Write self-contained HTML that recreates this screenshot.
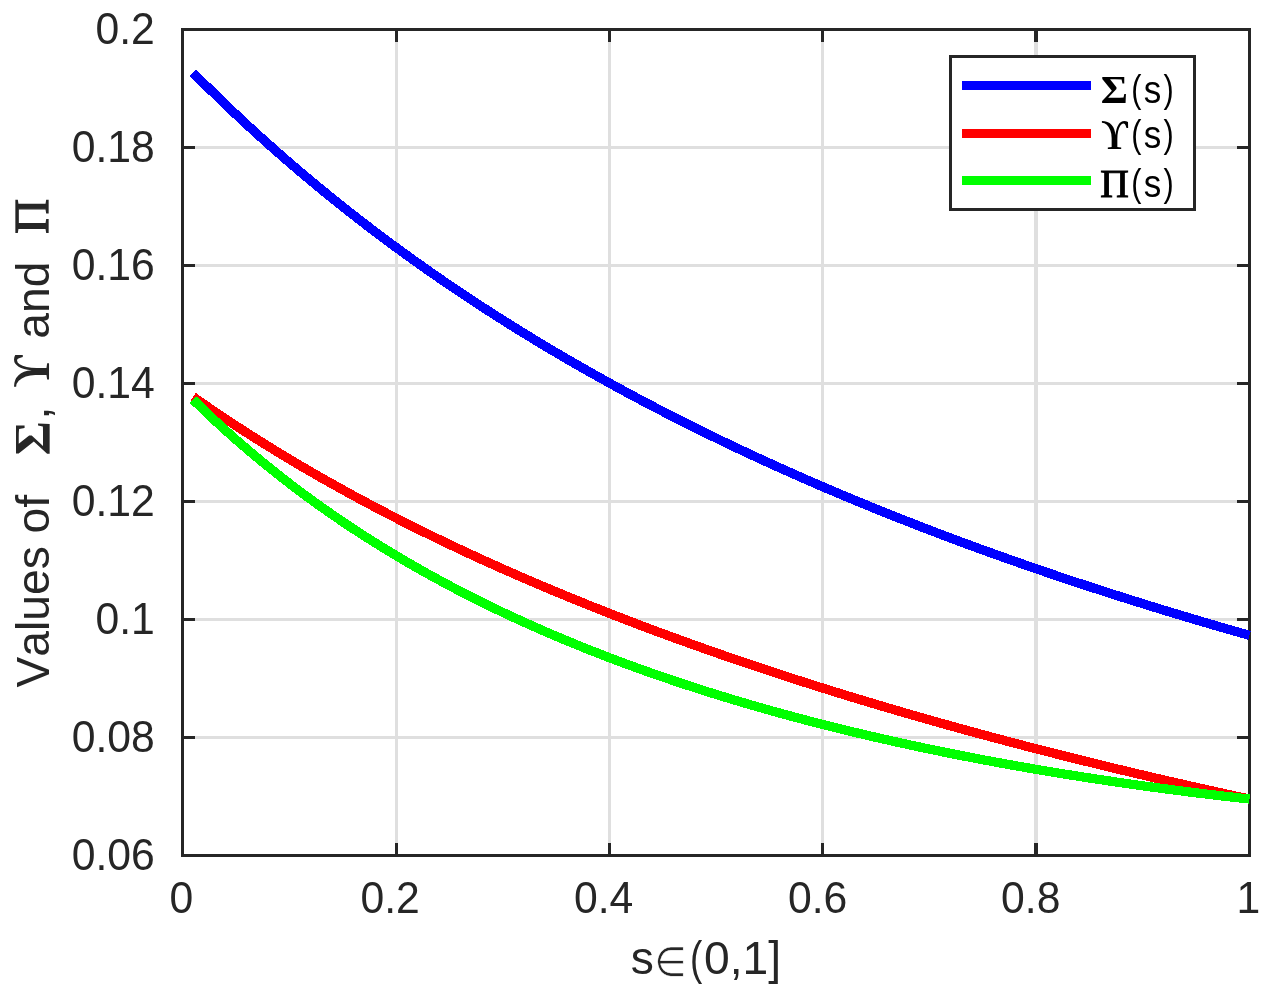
<!DOCTYPE html>
<html lang="en">
<head>
<meta charset="utf-8">
<title>Values of Σ, Υ and Π</title>
<style>
html,body{margin:0;padding:0;background:#fff;}
body{width:1264px;height:993px;overflow:hidden;}
svg{display:block;}
text{font-family:"Liberation Sans","DejaVu Sans",sans-serif;fill:#262626;}
.gk{font-family:"Liberation Serif","DejaVu Serif",serif;}
.tk{font-size:42.7px;}
.lb{font-size:46.2px;}
.lg{font-size:38.3px;}
.lg text{fill:#000;}
</style>
</head>
<body>
<svg width="1264" height="993" viewBox="0 0 1264 993" role="img" aria-label="Values of Σ(s), Υ(s) and Π(s) for s∈(0,1]">
<rect x="0" y="0" width="1264" height="993" fill="#ffffff"/>
<g stroke="#dfdfdf" stroke-width="3" fill="none">
<line x1="396.5" y1="31" x2="396.5" y2="854"/>
<line x1="609.5" y1="31" x2="609.5" y2="854"/>
<line x1="822.5" y1="31" x2="822.5" y2="854"/>
<line x1="1036" y1="31" x2="1036" y2="854" stroke-width="4"/>
<line x1="184" y1="147.5" x2="1248" y2="147.5"/>
<line x1="184" y1="265.5" x2="1248" y2="265.5"/>
<line x1="184" y1="383.5" x2="1248" y2="383.5"/>
<line x1="184" y1="501.5" x2="1248" y2="501.5"/>
<line x1="184" y1="619.5" x2="1248" y2="619.5"/>
<line x1="184" y1="737.5" x2="1248" y2="737.5"/>
</g>
<g stroke="#262626" stroke-width="3" fill="none" stroke-linecap="butt">
<rect x="182.5" y="29.5" width="1067" height="826"/>
<line x1="396.5" y1="855.5" x2="396.5" y2="843.0"/>
<line x1="396.5" y1="29.5" x2="396.5" y2="42.0"/>
<line x1="609.5" y1="855.5" x2="609.5" y2="843.0"/>
<line x1="609.5" y1="29.5" x2="609.5" y2="42.0"/>
<line x1="822.5" y1="855.5" x2="822.5" y2="843.0"/>
<line x1="822.5" y1="29.5" x2="822.5" y2="42.0"/>
<line x1="1036" y1="855.5" x2="1036" y2="843.0" stroke-width="4"/>
<line x1="1036" y1="29.5" x2="1036" y2="42.0" stroke-width="4"/>
<line x1="182.5" y1="147.5" x2="195.0" y2="147.5"/>
<line x1="1249.5" y1="147.5" x2="1237.0" y2="147.5"/>
<line x1="182.5" y1="265.5" x2="195.0" y2="265.5"/>
<line x1="1249.5" y1="265.5" x2="1237.0" y2="265.5"/>
<line x1="182.5" y1="383.5" x2="195.0" y2="383.5"/>
<line x1="1249.5" y1="383.5" x2="1237.0" y2="383.5"/>
<line x1="182.5" y1="501.5" x2="195.0" y2="501.5"/>
<line x1="1249.5" y1="501.5" x2="1237.0" y2="501.5"/>
<line x1="182.5" y1="619.5" x2="195.0" y2="619.5"/>
<line x1="1249.5" y1="619.5" x2="1237.0" y2="619.5"/>
<line x1="182.5" y1="737.5" x2="195.0" y2="737.5"/>
<line x1="1249.5" y1="737.5" x2="1237.0" y2="737.5"/>
</g>
<g fill="none" stroke-width="9.25" stroke-linecap="butt" stroke-linejoin="round" shape-rendering="crispEdges">
<polyline stroke="#0000ff" points="193.17,72.76 203.84,83.44 214.51,93.93 225.18,104.23 235.85,114.35 246.52,124.30 257.19,134.07 267.86,143.67 278.53,153.11 289.20,162.40 299.87,171.52 310.54,180.50 321.21,189.33 331.88,198.01 342.55,206.56 353.22,214.96 363.89,223.24 374.56,231.38 385.23,239.40 395.90,247.29 406.57,255.06 417.24,262.72 427.91,270.25 438.58,277.68 449.25,284.99 459.92,292.20 470.59,299.30 481.26,306.29 491.93,313.19 502.60,319.99 513.27,326.69 523.94,333.29 534.61,339.80 545.28,346.23 555.95,352.56 566.62,358.81 577.29,364.97 587.96,371.05 598.63,377.04 609.30,382.96 619.97,388.80 630.64,394.56 641.31,400.25 651.98,405.86 662.65,411.40 673.32,416.87 683.99,422.27 694.66,427.60 705.33,432.86 716.00,438.06 726.67,443.20 737.34,448.27 748.01,453.28 758.68,458.23 769.35,463.12 780.02,467.95 790.69,472.72 801.36,477.44 812.03,482.10 822.70,486.71 833.37,491.26 844.04,495.76 854.71,500.21 865.38,504.61 876.05,508.96 886.72,513.26 897.39,517.51 908.06,521.72 918.73,525.88 929.40,529.99 940.07,534.05 950.74,538.08 961.41,542.06 972.08,545.99 982.75,549.89 993.42,553.74 1004.09,557.55 1014.76,561.33 1025.43,565.06 1036.10,568.75 1046.77,572.41 1057.44,576.03 1068.11,579.61 1078.78,583.15 1089.45,586.66 1100.12,590.14 1110.79,593.58 1121.46,596.98 1132.13,600.35 1142.80,603.69 1153.47,607.00 1164.14,610.27 1174.81,613.51 1185.48,616.72 1196.15,619.90 1206.82,623.05 1217.49,626.17 1228.16,629.26 1238.83,632.32 1249.50,635.35"/>
<polyline stroke="#ff0000" points="193.17,396.77 203.84,404.20 214.51,411.49 225.18,418.65 235.85,425.68 246.52,432.59 257.19,439.37 267.86,446.04 278.53,452.59 289.20,459.03 299.87,465.36 310.54,471.59 321.21,477.72 331.88,483.75 342.55,489.69 353.22,495.53 363.89,501.28 374.56,506.94 385.23,512.52 395.90,518.02 406.57,523.43 417.24,528.76 427.91,534.02 438.58,539.21 449.25,544.32 459.92,549.36 470.59,554.33 481.26,559.23 491.93,564.07 502.60,568.84 513.27,573.55 523.94,578.20 534.61,582.78 545.28,587.31 555.95,591.79 566.62,596.20 577.29,600.56 587.96,604.87 598.63,609.13 609.30,613.33 619.97,617.48 630.64,621.59 641.31,625.65 651.98,629.65 662.65,633.62 673.32,637.54 683.99,641.41 694.66,645.24 705.33,649.02 716.00,652.77 726.67,656.47 737.34,660.14 748.01,663.76 758.68,667.34 769.35,670.89 780.02,674.40 790.69,677.87 801.36,681.31 812.03,684.71 822.70,688.07 833.37,691.40 844.04,694.70 854.71,697.96 865.38,701.19 876.05,704.39 886.72,707.55 897.39,710.69 908.06,713.79 918.73,716.86 929.40,719.91 940.07,722.92 950.74,725.90 961.41,728.86 972.08,731.79 982.75,734.69 993.42,737.56 1004.09,740.40 1014.76,743.22 1025.43,746.01 1036.10,748.78 1046.77,751.52 1057.44,754.23 1068.11,756.92 1078.78,759.58 1089.45,762.22 1100.12,764.84 1110.79,767.43 1121.46,770.00 1132.13,772.54 1142.80,775.06 1153.47,777.56 1164.14,780.04 1174.81,782.49 1185.48,784.92 1196.15,787.33 1206.82,789.72 1217.49,792.09 1228.16,794.43 1238.83,796.76 1249.50,799.06"/>
<polyline stroke="#00ff00" points="193.17,399.73 203.84,410.10 214.51,420.17 225.18,429.95 235.85,439.47 246.52,448.72 257.19,457.72 267.86,466.47 278.53,474.99 289.20,483.29 299.87,491.37 310.54,499.24 321.21,506.91 331.88,514.39 342.55,521.68 353.22,528.79 363.89,535.72 374.56,542.48 385.23,549.08 395.90,555.52 406.57,561.81 417.24,567.95 427.91,573.95 438.58,579.80 449.25,585.53 459.92,591.12 470.59,596.58 481.26,601.93 491.93,607.15 502.60,612.26 513.27,617.25 523.94,622.14 534.61,626.92 545.28,631.59 555.95,636.17 566.62,640.65 577.29,645.03 587.96,649.32 598.63,653.52 609.30,657.63 619.97,661.66 630.64,665.60 641.31,669.47 651.98,673.25 662.65,676.96 673.32,680.59 683.99,684.15 694.66,687.63 705.33,691.05 716.00,694.40 726.67,697.68 737.34,700.89 748.01,704.05 758.68,707.14 769.35,710.16 780.02,713.13 790.69,716.04 801.36,718.90 812.03,721.70 822.70,724.44 833.37,727.13 844.04,729.76 854.71,732.35 865.38,734.89 876.05,737.37 886.72,739.81 897.39,742.20 908.06,744.54 918.73,746.84 929.40,749.09 940.07,751.30 950.74,753.46 961.41,755.59 972.08,757.67 982.75,759.71 993.42,761.70 1004.09,763.66 1014.76,765.58 1025.43,767.47 1036.10,769.31 1046.77,771.12 1057.44,772.89 1068.11,774.62 1078.78,776.32 1089.45,777.99 1100.12,779.62 1110.79,781.21 1121.46,782.78 1132.13,784.30 1142.80,785.80 1153.47,787.27 1164.14,788.70 1174.81,790.10 1185.48,791.47 1196.15,792.81 1206.82,794.12 1217.49,795.40 1228.16,796.65 1238.83,797.88 1249.50,799.07"/>
</g>
<g class="tk" text-anchor="end">
<text transform="translate(154.8,43.9) scale(1,1.05)">0.2</text>
<text transform="translate(154.8,161.9) scale(1,1.05)">0.18</text>
<text transform="translate(154.8,279.9) scale(1,1.05)">0.16</text>
<text transform="translate(154.8,397.9) scale(1,1.05)">0.14</text>
<text transform="translate(154.8,515.9) scale(1,1.05)">0.12</text>
<text transform="translate(154.8,633.9) scale(1,1.05)">0.1</text>
<text transform="translate(154.8,751.9) scale(1,1.05)">0.08</text>
<text transform="translate(154.8,869.9) scale(1,1.05)">0.06</text>
</g>
<g class="tk">
<text transform="translate(169.4,913.4) scale(1,1.05)">0</text>
<text transform="translate(360.5,913.4) scale(1,1.05)">0.2</text>
<text transform="translate(574,913.4) scale(1,1.05)">0.4</text>
<text transform="translate(788,913.4) scale(1,1.05)">0.6</text>
<text transform="translate(1001.1,913.4) scale(1,1.05)">0.8</text>
<text transform="translate(1236.5,913.4) scale(1,1.05)">1</text>
</g>
<g class="lb">
<text x="630.8" y="974">s</text>
<text transform="translate(654.4,976) scale(0.935,1.04)" style="font-family:'DejaVu Sans',sans-serif;font-size:39px" stroke="#fff" stroke-width="0.5">∈</text>
<text transform="translate(690.1,974) scale(0.8,1)">(</text>
<text x="704" y="974">0,1]</text>
</g>
<g class="lb" transform="translate(49,0) rotate(-90)">
<text x="-687.5" y="0" style="font-kerning:none">Values of</text>
<text class="gk" transform="translate(-455.48,0.00) scale(1.0360,1)" style="font-size:50.92px;font-weight:bold" fill="#262626">Σ</text>
<text x="-419.5" y="0">,</text>
<text class="gk" transform="translate(-387.35,0.00) scale(0.8463,1)" style="font-size:52.92px;font-weight:bold" fill="#262626">ϒ</text>
<text x="-338.7" y="0">and</text>
<text class="gk" transform="translate(-233.80,-0.65) scale(0.9848,1)" style="font-size:49.08px;font-weight:normal" fill="#262626" stroke="#262626" stroke-width="1.3">Π</text>
</g>
<rect x="950.5" y="56.5" width="244" height="153" fill="#ffffff" stroke="#262626" stroke-width="3"/>
<g stroke-width="9" fill="none" shape-rendering="crispEdges">
<line x1="962" y1="85.5" x2="1091" y2="85.5" stroke="#0000ff"/>
<line x1="962" y1="133" x2="1091" y2="133" stroke="#ff0000"/>
<line x1="962" y1="180" x2="1091" y2="180" stroke="#00ff00"/>
</g>
<g class="lg">
<text class="gk" transform="translate(1100.65,103.00) scale(1.0269,1)" style="font-size:40.46px;font-weight:bold" fill="#000">Σ</text>
<text transform="translate(1131.2,102) scale(0.8,1)">(</text>
<text transform="translate(1143.85,103) scale(0.915,1)">s</text>
<text transform="translate(1163.5,102) scale(0.8,1)">)</text>
<text class="gk" transform="translate(1101.53,149.00) scale(0.8536,1)" style="font-size:43.23px;font-weight:bold" fill="#000">ϒ</text>
<text transform="translate(1131.2,147) scale(0.8,1)">(</text>
<text transform="translate(1143.85,148) scale(0.915,1)">s</text>
<text transform="translate(1163.5,147) scale(0.8,1)">)</text>
<text class="gk" transform="translate(1100.31,196.50) scale(0.9925,1)" style="font-size:39.85px;font-weight:normal" fill="#000" stroke="#000" stroke-width="1.0">Π</text>
<text transform="translate(1131.2,196) scale(0.8,1)">(</text>
<text transform="translate(1143.85,197) scale(0.915,1)">s</text>
<text transform="translate(1163.5,196) scale(0.8,1)">)</text>
</g>
</svg>
</body>
</html>
